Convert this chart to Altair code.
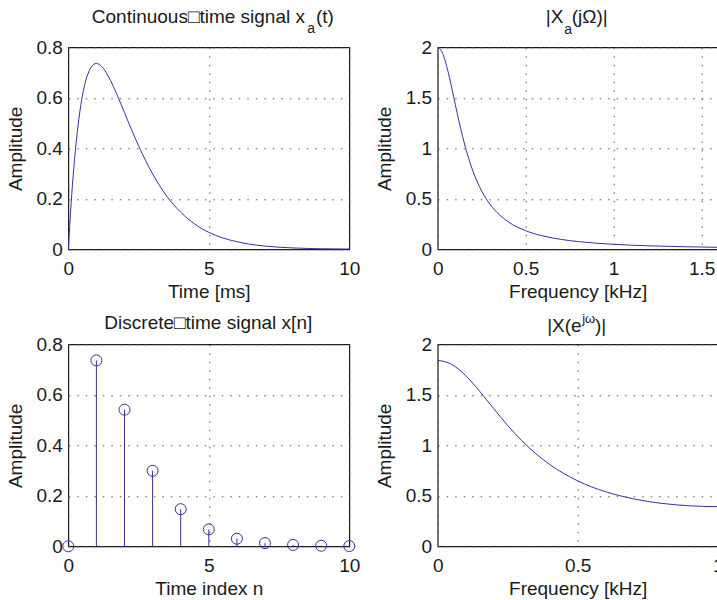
import altair as alt
import pandas as pd

# ---- data ----
t_ms = [0, 0.1, 0.2, 0.3, 0.4, 0.5, 0.6, 0.7, 0.8, 0.9, 1.0, 1.2, 1.4, 1.6, 1.8, 2.0,
        2.25, 2.5, 2.75, 3.0, 3.5, 4.0, 4.5, 5.0, 5.5, 6.0, 6.5, 7.0, 7.5, 8.0, 9.0, 10.0]
xa_amp = [0, 0.181, 0.327, 0.444, 0.536, 0.607, 0.659, 0.695, 0.719, 0.732, 0.736, 0.723,
          0.690, 0.646, 0.595, 0.541, 0.474, 0.410, 0.352, 0.299, 0.211, 0.147, 0.100,
          0.067, 0.045, 0.030, 0.0195, 0.0128, 0.0083, 0.0054, 0.0022, 0.0009]

f_cont_khz = [0, 0.02, 0.04, 0.06, 0.08, 0.10, 0.12, 0.14, 0.16, 0.18, 0.20, 0.25, 0.30,
              0.35, 0.40, 0.50, 0.60, 0.70, 0.80, 0.90, 1.00, 1.20, 1.40, 1.5915]
Xa_mag = [2.0, 1.969, 1.881, 1.751, 1.597, 1.434, 1.275, 1.128, 0.995, 0.878, 0.775, 0.577,
          0.439, 0.343, 0.273, 0.184, 0.1315, 0.0983, 0.0761, 0.0606, 0.0494, 0.0346,
          0.0255, 0.0198]

n_index = [0, 1, 2, 3, 4, 5, 6, 7, 8, 9, 10]
xn_amp = [0, 0.736, 0.541, 0.299, 0.147, 0.067, 0.030, 0.0128, 0.0054, 0.0022, 0.0009]

f_disc_khz = [0, 0.05, 0.10, 0.15, 0.20, 0.25, 0.30, 0.35, 0.40, 0.45, 0.50, 0.55, 0.60,
              0.65, 0.70, 0.75, 0.80, 0.85, 0.90, 0.95, 1.00]
Xd_mag = [1.842, 1.801, 1.690, 1.534, 1.363, 1.196, 1.047, 0.918, 0.810, 0.721, 0.648,
          0.588, 0.540, 0.501, 0.469, 0.444, 0.425, 0.411, 0.401, 0.395, 0.393]

time_ticks = [0, 5, 10]
fcont_ticks = [0, 0.5, 1, 1.5]
fdisc_ticks = [0, 0.5, 1]
amp_ticks = [0, 0.2, 0.4, 0.6, 0.8]
mag_ticks = [0, 0.5, 1, 1.5, 2]

LINE = "#36329e"
TXT = "#1a1a1a"
FONT = "Liberation Sans"
WL, WR, H = 281, 280, 202


def xenc(field, domain, ticks, title):
    return alt.X(field, type="quantitative",
                 scale=alt.Scale(domain=domain, nice=False, zero=False),
                 axis=alt.Axis(values=ticks, format="~r", title=title,
                               titleY=48, titleBaseline="alphabetic", labelPadding=10))


def yenc(field, domain, ticks, height):
    return alt.Y(field, type="quantitative",
                 scale=alt.Scale(domain=domain, nice=False, zero=False),
                 axis=alt.Axis(values=ticks, format="~r", title="Amplitude",
                               titleX=-47, titleY=height / 2, titleAngle=270,
                               titleAlign="center", titleBaseline="alphabetic",
                               labelPadding=6))


def piece(s, x, y, size=19, align="left"):
    return alt.Chart(pd.DataFrame({"s": [s]})).mark_text(
        align=align, baseline="alphabetic", font=FONT, fontSize=size, color=TXT
    ).encode(x=alt.value(x), y=alt.value(y), text="s:N")


# top-left: continuous-time signal
tl_line = alt.Chart(pd.DataFrame({"t": t_ms, "v": xa_amp})).mark_line(
    color=LINE, strokeWidth=1, interpolate="monotone"
).encode(x=xenc("t", [0, 10], time_ticks, "Time [ms]"),
         y=yenc("v", [0, 0.8], amp_ticks, H))
tl = alt.layer(
    tl_line,
    piece("Continuous\u25A1time signal x", 236.7, -24.6, align="right"),
    piece("a", 239, -14, size=14),
    piece("(t)", 247.7, -24.6),
).properties(width=WL, height=H)

# top-right: |Xa(jΩ)|
tr_line = alt.Chart(pd.DataFrame({"f": f_cont_khz, "v": Xa_mag})).mark_line(
    color=LINE, strokeWidth=1, interpolate="monotone"
).encode(x=xenc("f", [0, 1.5915], fcont_ticks, "Frequency [kHz]"),
         y=yenc("v", [0, 2], mag_ticks, H))
tr = alt.layer(
    tr_line,
    piece("|X", 125.6, -24.6, align="right"),
    piece("a", 126.5, -13, size=14),
    piece("(j\u03A9)|", 134, -24.6),
).properties(width=WR, height=H)

# bottom-left: discrete-time signal (stem plot)
df_n = pd.DataFrame({"n": n_index, "v": xn_amp})
bl_stem = alt.Chart(df_n).mark_rule(color=LINE, strokeWidth=1).encode(
    x=xenc("n", [0, 10], time_ticks, "Time index n"),
    y=yenc("v", [0, 0.8], amp_ticks, H),
    y2=alt.datum(0),
)
bl_pts = alt.Chart(df_n).mark_point(
    shape="circle", filled=False, size=121, color=LINE, strokeWidth=1, opacity=1
).encode(x="n:Q", y="v:Q")
bl = alt.layer(
    bl_stem, bl_pts,
    piece("Discrete\u25A1time signal x[n]", 140, -15, align="center"),
).properties(width=WL, height=H)

# bottom-right: |X(e^jω)|
br_line = alt.Chart(pd.DataFrame({"f": f_disc_khz, "v": Xd_mag})).mark_line(
    color=LINE, strokeWidth=1, interpolate="monotone"
).encode(x=xenc("f", [0, 1], fdisc_ticks, "Frequency [kHz]"),
         y=yenc("v", [0, 2], mag_ticks, H))
br = alt.layer(
    br_line,
    piece("|X(e", 144, -12.6, align="right"),
    piece("j\u03C9", 144.5, -21, size=13),
    piece(")|", 157.3, -12.6),
).properties(width=WR, height=H)

chart = alt.concat(
    tl, tr, bl, br, columns=2,
    spacing={"row": 95, "column": 88.4}, bounds="flush",
).properties(
    autosize=alt.AutoSizeParams(type="none"),
    padding={"left": 68.3, "top": 47.3, "right": 648.7, "bottom": 552.7},
    background="white",
).configure_view(
    stroke="#1a1a1a", strokeWidth=1.2
).configure_axis(
    domain=False, ticks=False, tickSize=0,
    labelFont=FONT, labelFontSize=19, labelColor=TXT,
    titleFont=FONT, titleFontSize=19, titleFontWeight="normal", titleColor=TXT,
    grid=True, gridColor="#555555", gridDash=[1.5, 7], gridWidth=1,
    labelFlush=False, labelOverlap=False,
)

chart.save("out.html", embed_options={"renderer": "svg", "actions": False})
